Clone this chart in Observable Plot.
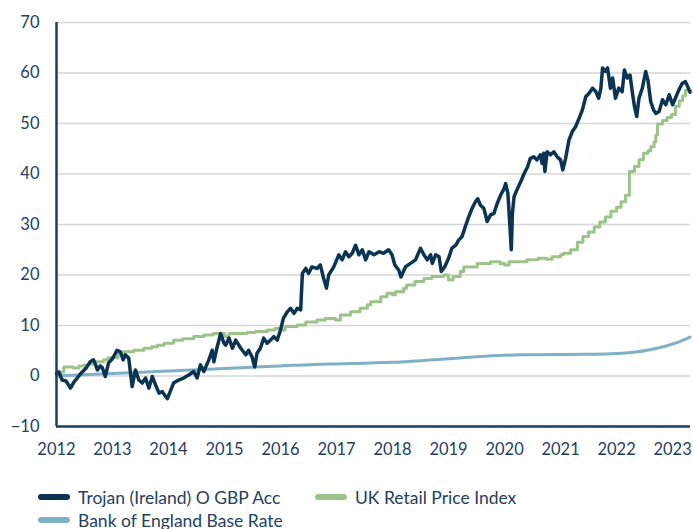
<!DOCTYPE html>
<html><head><meta charset="utf-8">
<script src="https://cdn.jsdelivr.net/npm/d3@7"></script>
<script src="https://cdn.jsdelivr.net/npm/@observablehq/plot@0.6"></script>
<style>
body{margin:0;background:#fff;font-family:Lato,"Noto Sans",sans-serif;}
#legend{position:relative;width:693px;height:59px;color:#24415e;font-size:17.5px}
.item{position:absolute;display:flex;align-items:center;height:20px;white-space:nowrap}
.sw{width:32px;height:6px;border-radius:3px;margin-right:8px}
</style></head><body><div id="chart"></div><div id="legend"></div>
<script>
const seriesNames = ["Trojan (Ireland) O GBP Acc", "UK Retail Price Index", "Bank of England Base Rate"];
const seriesColors = ["#0b3452", "#9cc489", "#7fb0c8"];
const yTicks = [-10, 0, 10, 20, 30, 40, 50, 60, 70];
const xTicks = [2012, 2013, 2014, 2015, 2016, 2017, 2018, 2019, 2020, 2021, 2022, 2023];

const trojanDates = [2012.00,2012.04,2012.10,2012.17,2012.25,2012.31,2012.37,2012.42,2012.46,2012.53,2012.60,2012.66,2012.70,2012.73,2012.78,2012.82,2012.87,2012.93,2012.98,
2013.02,2013.08,2013.14,2013.19,2013.23,2013.29,2013.35,2013.41,2013.47,2013.53,2013.59,2013.65,2013.71,2013.77,2013.83,2013.89,2013.95,2013.98,
2014.04,2014.09,2014.18,2014.27,2014.36,2014.45,2014.51,2014.57,2014.63,2014.72,2014.78,2014.81,2014.87,2014.93,2014.99,
2015.02,2015.08,2015.14,2015.20,2015.29,2015.38,2015.43,2015.49,2015.54,2015.58,2015.64,2015.70,2015.76,2015.82,2015.88,2015.94,
2016.00,2016.05,2016.12,2016.18,2016.24,2016.30,2016.36,2016.39,2016.45,2016.50,2016.56,2016.65,2016.71,2016.77,2016.82,2016.86,2016.95,
2017.04,2017.10,2017.16,2017.22,2017.28,2017.34,2017.40,2017.46,2017.52,2017.58,2017.67,2017.76,2017.84,2017.93,2017.99,
2018.04,2018.11,2018.15,2018.23,2018.32,2018.41,2018.50,2018.56,2018.62,2018.68,2018.71,2018.77,2018.83,2018.87,2018.93,
2019.00,2019.06,2019.13,2019.18,2019.24,2019.30,2019.36,2019.42,2019.48,2019.52,2019.57,2019.63,2019.69,2019.75,2019.81,2019.87,2019.93,2019.99,
2020.02,2020.06,2020.10,2020.12,2020.14,2020.17,2020.23,2020.29,2020.35,2020.41,2020.46,2020.52,2020.58,2020.64,2020.67,2020.70,2020.72,2020.76,2020.82,2020.88,2020.94,
2021.00,2021.04,2021.09,2021.15,2021.21,2021.27,2021.33,2021.39,2021.45,2021.51,2021.57,2021.63,2021.68,2021.72,2021.75,2021.80,2021.84,2021.89,2021.93,2021.98,
2022.04,2022.10,2022.14,2022.19,2022.24,2022.28,2022.32,2022.36,2022.40,2022.46,2022.52,2022.56,2022.61,2022.66,2022.70,2022.76,2022.82,2022.88,2022.94,
2023.00,2023.05,2023.11,2023.17,2023.23,2023.27,2023.31];
const trojanValues = [0.5,0.8,-0.8,-1.0,-2.4,-1.2,-0.4,0.3,0.8,1.6,2.8,3.2,2.2,1.2,2.0,1.6,-0.1,2.6,3.2,
3.8,5.1,4.8,3.2,4.2,3.5,-2.1,1.2,-0.8,-1.4,-0.4,-2.4,-0.1,-1.8,-3.4,-3.1,-4.1,-4.5,
-2.8,-1.4,-0.8,-0.4,0.2,0.9,-0.4,2.2,0.9,3.2,5.1,2.8,5.8,8.4,6.5,
6.1,7.5,5.5,7.1,5.5,4.2,5.1,3.8,1.8,4.5,5.5,7.5,6.5,7.1,7.8,7.1,
9.1,11.4,12.7,13.4,12.4,13.4,13.1,20.3,21.3,20.3,21.6,21.3,22.0,19.3,17.4,20.0,21.6,
24.0,23.0,24.6,23.6,24.3,25.9,24.0,25.0,23.0,24.6,24.0,24.6,24.3,25.0,24.0,
22.0,21.0,19.6,21.6,22.3,23.0,25.3,24.0,23.0,24.0,22.3,24.0,23.6,20.7,21.6,
23.3,25.3,25.9,26.9,27.6,29.6,31.5,33.2,34.5,35.1,33.8,33.2,30.6,31.9,32.2,34.2,35.8,37.1,
38.1,36.1,28.9,25.0,32.2,35.5,37.1,38.5,40.1,41.4,43.1,43.4,42.8,43.8,42.1,44.1,40.5,44.4,43.8,44.4,43.4,
42.8,40.8,43.1,46.7,48.4,49.4,51.0,52.7,55.3,56.0,57.0,56.3,55.0,57.0,61.0,60.3,61.0,57.0,59.0,55.0,
57.0,56.3,60.6,59.0,59.6,56.3,53.3,51.4,55.0,57.0,60.3,58.6,54.3,52.7,52.0,52.4,54.7,53.7,55.7,
53.7,55.0,56.6,57.9,58.3,57.3,56.2];

const rpiDates = [2012.00,2012.08,2012.13,2012.30,2012.40,2012.49,2012.58,2012.67,2012.84,2012.92,
2013.10,2013.20,2013.38,2013.56,2013.70,2013.80,2013.92,2014.09,2014.25,2014.45,2014.63,2014.80,
2015.00,2015.08,2015.40,2015.55,2015.76,2015.90,2016.00,2016.08,2016.30,2016.45,2016.65,2016.80,2016.98,
2017.07,2017.25,2017.42,2017.55,2017.61,2017.79,2017.90,2018.00,2018.05,2018.20,2018.25,2018.40,2018.56,2018.70,2018.91,
2019.00,2019.08,2019.21,2019.27,2019.51,2019.75,2019.92,2020.00,2020.08,2020.40,2020.60,2020.75,2020.85,
2021.00,2021.05,2021.18,2021.30,2021.40,2021.50,2021.60,2021.70,2021.80,2021.90,2022.00,2022.08,2022.16,
2022.23,2022.32,2022.40,2022.48,2022.56,2022.61,2022.67,2022.70,2022.73,2022.82,2022.90,2022.98,
2023.05,2023.12,2023.18,2023.23,2023.32];
const rpiValues = [0.0,0.8,1.8,1.6,2.0,2.2,2.4,2.8,3.2,3.6,
4.6,4.8,5.1,5.5,5.8,6.1,6.5,7.1,7.4,7.8,8.1,8.4,
7.8,8.4,8.6,8.8,9.1,9.4,9.1,9.8,10.1,10.7,11.1,11.4,11.1,
12.1,12.7,13.4,14.1,14.7,15.7,16.4,16.1,16.7,17.4,18.0,18.7,19.3,19.7,20.0,
19.0,19.7,20.7,21.6,22.3,22.6,22.3,22.0,22.6,23.0,23.3,23.1,23.6,
24.0,24.3,25.0,26.5,27.6,28.5,29.5,30.5,31.5,32.6,33.4,34.5,35.8,
40.5,41.5,42.8,44.1,44.6,45.4,46.4,47.7,49.9,50.6,51.2,51.8,
53.4,54.5,55.5,56.6,56.6];

const boeDates = [2012.0,2013.0,2014.0,2015.0,2016.0,2016.6,2017.0,2018.0,2018.6,2019.0,2019.5,2020.0,2020.3,2021.0,2021.5,2022.0,2022.3,2022.6,2022.9,2023.1,2023.31];
const boeValues = [0.0,0.5,1.0,1.5,2.0,2.3,2.4,2.7,3.1,3.4,3.8,4.1,4.2,4.25,4.3,4.45,4.7,5.2,6.0,6.7,7.7];

const troj = trojanDates.map((t, i) => ({t, v: trojanValues[i]}));
const rpi = rpiDates.map((t, i) => ({t, v: rpiValues[i]}));
const boe = boeDates.map((t, i) => ({t, v: boeValues[i]}));

const navy = "#1b3f5e";
const textColor = "#24415e";

const chart = Plot.plot({
  width: 693, height: 470,
  marginTop: 22, marginLeft: 56, marginRight: 3, marginBottom: 44,
  style: {fontFamily: "Lato, 'Noto Sans', sans-serif", fontSize: "16.5px", color: textColor, background: "#fff"},
  x: {domain: [2012, 2023.32]},
  y: {domain: [-10, 70]},
  marks: [
    Plot.gridY(yTicks, {stroke: "#d6d6d6", strokeOpacity: 1, strokeWidth: 1.5}),
    Plot.axisY(yTicks, {tickSize: 0, tickPadding: 17, fontSize: 16.5, fill: textColor, label: null}),
    Plot.axisX(xTicks, {tickSize: 0, tickPadding: 17, fontSize: 16.5, fill: textColor, label: null, tickFormat: d => String(d)}),
    Plot.line(boe, {x: "t", y: "v", stroke: seriesColors[2], strokeWidth: 3, curve: "monotone-x"}),
    Plot.line(rpi, {x: "t", y: "v", stroke: seriesColors[1], strokeWidth: 3, curve: "step-after"}),
    Plot.line(troj, {x: "t", y: "v", stroke: seriesColors[0], strokeWidth: 3.5, strokeLinejoin: "round"}),
    Plot.ruleX([2012], {stroke: navy, strokeWidth: 2.5}),
    Plot.ruleY([-10], {stroke: navy, strokeWidth: 2.5})
  ]
});
document.getElementById("chart").appendChild(chart);

const legend = document.getElementById("legend");
const pos = [[38, 17], [315, 17], [38, 40]];
seriesNames.forEach((name, i) => {
  const it = document.createElement("div");
  it.className = "item";
  it.style.left = pos[i][0] + "px";
  it.style.top = pos[i][1] + "px";
  const sw = document.createElement("span");
  sw.className = "sw";
  sw.style.background = seriesColors[i];
  const tx = document.createElement("span");
  tx.textContent = name;
  it.appendChild(sw); it.appendChild(tx);
  legend.appendChild(it);
});
</script></body></html>
